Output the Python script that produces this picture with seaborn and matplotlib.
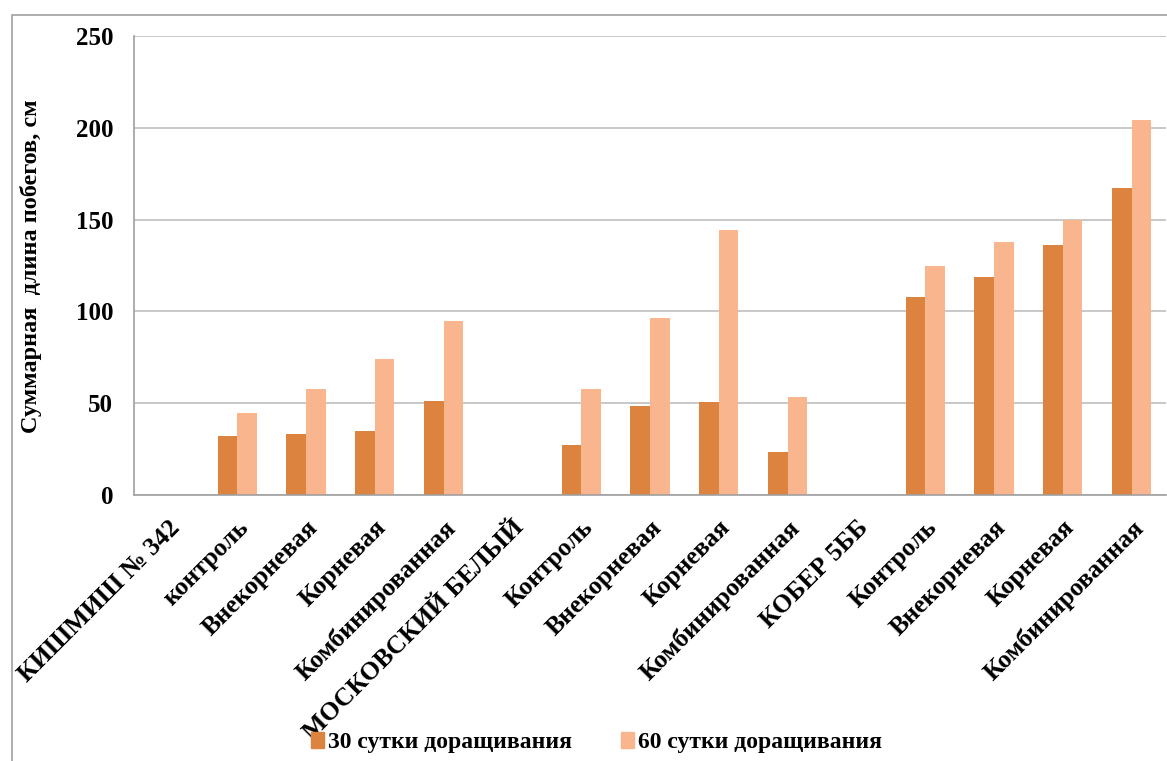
import seaborn as sns
import matplotlib.pyplot as plt
import pandas as pd
from matplotlib.patches import Rectangle, Patch

categories = ['КИШМИШ № 342', 'контроль', 'Внекорневая', 'Корневая', 'Комбинированная',
              'МОСКОВСКИЙ БЕЛЫЙ', 'Контроль', 'Внекорневая', 'Корневая', 'Комбинированная',
              'КОБЕР 5ББ', 'Контроль', 'Внекорневая', 'Корневая', 'Комбинированная']
days30 = [0, 32, 33, 35, 51, 0, 27, 48.5, 50.5, 23.5, 0, 108, 119, 136, 167]
days60 = [0, 44.5, 58, 74, 95, 0, 58, 96.5, 144.5, 53.5, 0, 125, 138, 150, 204]
series = ['30 сутки доращивания', '60 сутки доращивания']
colors = ['#DC843F', '#F8B58E']

if __name__ == '__main__':
    sns.set_style('white')
    plt.rcParams['font.family'] = ['Liberation Serif', 'DejaVu Serif']
    plt.rcParams['font.weight'] = 'bold'
    plt.rcParams['text.color'] = 'black'
    plt.rcParams['xtick.color'] = 'black'
    plt.rcParams['ytick.color'] = 'black'

    n = len(categories)
    df = pd.DataFrame({
        'pos': list(range(n)) * 2,
        'value': days30 + days60,
        'series': [series[0]] * n + [series[1]] * n,
    })

    fig = plt.figure(figsize=(11.67, 7.61), dpi=100)
    ax = fig.add_axes([134 / 1167, 1 - 495 / 761, 1032 / 1167, 459 / 761])
    sns.barplot(data=df, x='pos', y='value', hue='series', palette=colors, saturation=1,
                width=0.57, linewidth=0, ax=ax, legend=False, errorbar=None)

    ax.set_xlim(-0.5, n - 0.5)
    ax.set_ylim(0, 250)
    ax.set_yticks([0, 50, 100, 150, 200, 250])
    ax.yaxis.grid(True, color='#BFBFBF', linewidth=1.2)
    ax.set_axisbelow(True)
    for s in ['top', 'right']:
        ax.spines[s].set_visible(False)
    for s in ['left', 'bottom']:
        ax.spines[s].set_color('#A0A0A0')
        ax.spines[s].set_linewidth(1.2)

    ax.set_xticks(range(n))
    ax.set_xticklabels(categories, rotation=45, ha='right', va='top',
                       rotation_mode='anchor', fontsize=18.5, fontweight='bold')
    ax.tick_params(axis='x', which='major', length=0, pad=15)
    ax.set_xticks([i - 0.5 for i in range(n + 1)], minor=True)
    ax.tick_params(axis='x', which='minor', length=7, color='#A0A0A0', width=1.2)
    ax.tick_params(axis='y', length=7, color='#A0A0A0', width=1.2, labelsize=18, pad=8,
                   labelcolor='black')
    for lab in ax.get_yticklabels():
        lab.set_fontweight('bold')

    ax.set_xlabel('')
    ax.set_ylabel('')
    fig.text(31 / 1167, 1 - 266 / 761, 'Суммарная  длина побегов, см', rotation=90,
             ha='center', va='center', fontsize=17.5, fontweight='bold')

    handles = [Patch(color=c) for c in colors]
    fig.legend(handles, series, loc='center', bbox_to_anchor=(0.511, 0.024), ncol=2,
               frameon=False, handlelength=0.55, handleheight=0.7, handletextpad=0.15,
               columnspacing=2.1, prop={'size': 17, 'weight': 'bold'})

    fig.patches.append(Rectangle((12 / 1167, -0.1), 1.2, 1 - 15 / 761 + 0.1,
                                 transform=fig.transFigure, fill=False,
                                 edgecolor='#A0A0A0', linewidth=1.2))

    fig.savefig('out.png', dpi=100)
